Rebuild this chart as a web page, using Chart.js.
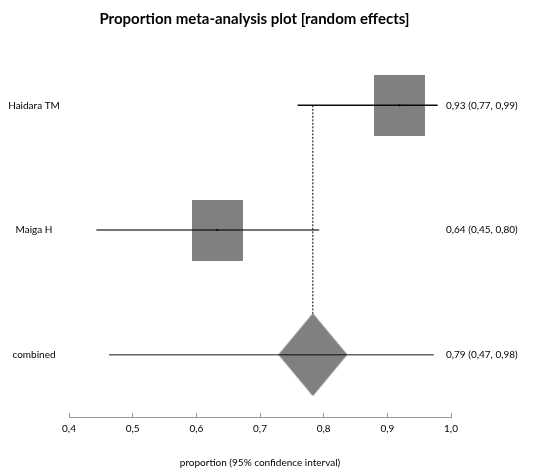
<!DOCTYPE html>
<html><head><meta charset="utf-8">
<script src="https://cdn.jsdelivr.net/npm/chart.js@4/dist/chart.umd.min.js"></script>
<style>html,body{margin:0;padding:0;background:#fff}canvas{display:block}</style>
</head><body>
<canvas id="c" width="534" height="469"></canvas>
<script>
// ---- data ----
const studies = ['Haidara TM', 'Maiga H'];
const estimates = [0.926, 0.64];
const lower = [0.766, 0.45];
const upper = [0.986, 0.80];
const pooledLabel = 'combined';
const pooledEstimate = 0.79;
const pooledLower = 0.47;
const pooledUpper = 0.98;
const xTicks = [0.4, 0.5, 0.6, 0.7, 0.8, 0.9, 1.0];

// ---- helpers ----
const FONT = 'Lato';
const fmt = v => (Math.round(v * 100) / 100).toFixed(2).replace('.', ',');
const rowText = (e, l, u) => fmt(e) + ' (' + fmt(l) + ', ' + fmt(u) + ')';

function makeRect(w, h, color) {
  const c = document.createElement('canvas'); c.width = w; c.height = h;
  const g = c.getContext('2d'); g.fillStyle = color; g.fillRect(0, 0, w, h); return c;
}
function makeDiamond(w, h, color) {
  const c = document.createElement('canvas'); c.width = w; c.height = h;
  const g = c.getContext('2d'); g.fillStyle = color;
  g.beginPath(); g.moveTo(w / 2, 0); g.lineTo(w, h / 2); g.lineTo(w / 2, h); g.lineTo(0, h / 2); g.closePath(); g.fill();
  return c;
}
const boxImg = makeRect(51, 61, '#808080');
const diamondImg = makeDiamond(69, 83, '#808080');

const nRows = studies.length + 1;
const pooledRow = nRows;
const lineColors = ['rgba(0,0,0,0.95)', 'rgba(0,0,0,0.72)'];

const datasets = [];
// dashed reference line at pooled estimate
datasets.push({
  type: 'scatter', showLine: true, order: 6,
  data: [{x: pooledEstimate, y: 1}, {x: pooledEstimate, y: pooledRow}],
  borderColor: '#000', borderWidth: 1, borderDash: [2, 1.5], pointRadius: 0,
  xAxisID: 'xd', yAxisID: 'y'
});
// diamond
datasets.push({
  type: 'scatter', order: 5,
  data: [{x: pooledEstimate, y: pooledRow}],
  pointStyle: diamondImg, pointRadius: 1, xAxisID: 'xd', yAxisID: 'y'
});
// study boxes
datasets.push({
  type: 'scatter', order: 4,
  data: estimates.map((e, i) => ({x: e, y: i + 1})),
  pointStyle: boxImg, pointRadius: 1, xAxisID: 'xd', yAxisID: 'y'
});
// CI lines
studies.forEach((s, i) => {
  datasets.push({
    type: 'scatter', showLine: true, order: 3,
    data: [{x: lower[i], y: i + 1}, {x: upper[i], y: i + 1}],
    borderColor: lineColors[i], borderWidth: 1.5, pointRadius: 0,
    xAxisID: 'xd', yAxisID: 'y'
  });
});
datasets.push({
  type: 'scatter', showLine: true, order: 3,
  data: [{x: pooledLower, y: pooledRow}, {x: pooledUpper, y: pooledRow}],
  borderColor: 'rgba(0,0,0,0.6)', borderWidth: 1.5, pointRadius: 0,
  xAxisID: 'xd', yAxisID: 'y'
});
// centre dots
datasets.push({
  type: 'scatter', order: 1,
  data: estimates.map((e, i) => ({x: e, y: i + 1})),
  pointStyle: 'rect', pointRadius: 1.3, backgroundColor: '#000', borderWidth: 0,
  xAxisID: 'xd', yAxisID: 'y'
});

const rowLabels = {
  id: 'rowLabels',
  afterDatasetsDraw(chart) {
    const ctx = chart.ctx, ys = chart.scales.y, a = chart.chartArea;
    ctx.save();
    ctx.font = '10px ' + FONT; ctx.fillStyle = '#000'; ctx.textBaseline = 'middle';
    const names = studies.concat([pooledLabel]);
    const texts = studies.map((s, i) => rowText(estimates[i], lower[i], upper[i]))
      .concat([rowText(pooledEstimate, pooledLower, pooledUpper)]);
    names.forEach((n, i) => {
      const py = ys.getPixelForValue(i + 1);
      ctx.textAlign = 'center'; ctx.fillText(n, a.left - 35, py);
      ctx.textAlign = 'left'; ctx.fillText(texts[i], a.right - 5, py);
    });
    ctx.restore();
  }
};

new Chart(document.getElementById('c'), {
  type: 'scatter',
  data: {datasets},
  options: {
    responsive: false, animation: false,
    layout: {padding: {left: 58, right: 83, top: 0, bottom: 0}},
    plugins: {
      legend: {display: false}, tooltip: {enabled: false},
      title: {display: true, text: 'Proportion meta-analysis plot [random effects]',
        font: {family: FONT, size: 15, weight: 'bold'}, color: '#000',
        padding: {top: 10, bottom: 15}}
    },
    scales: {
      x: {
        type: 'linear', position: 'bottom', min: 0.4, max: 1.0,
        afterBuildTicks: s => { s.ticks = xTicks.map(v => ({value: v})); },
        ticks: {callback: v => v.toFixed(1).replace('.', ','), font: {family: FONT, size: 10},
          color: '#000', padding: 10, maxRotation: 0, autoSkip: false},
        grid: {drawOnChartArea: false, drawTicks: true, tickLength: -4, color: '#999'},
        border: {color: '#999', width: 1},
        title: {display: true, text: 'proportion (95% confidence interval)',
          font: {family: FONT, size: 10}, color: '#000', padding: {top: 0, bottom: 0}},
        afterFit: s => { s.height = 52; }
      },
      xd: {type: 'linear', display: false, min: 0.407, max: 1.007},
      y: {
        type: 'linear', position: 'left', min: 0.5, max: 3.5, reverse: true,
        grid: {display: false}, border: {display: false}, ticks: {display: false},
        afterFit: s => { s.width = 11; }
      }
    }
  },
  plugins: [rowLabels]
});
</script>
</body></html>
